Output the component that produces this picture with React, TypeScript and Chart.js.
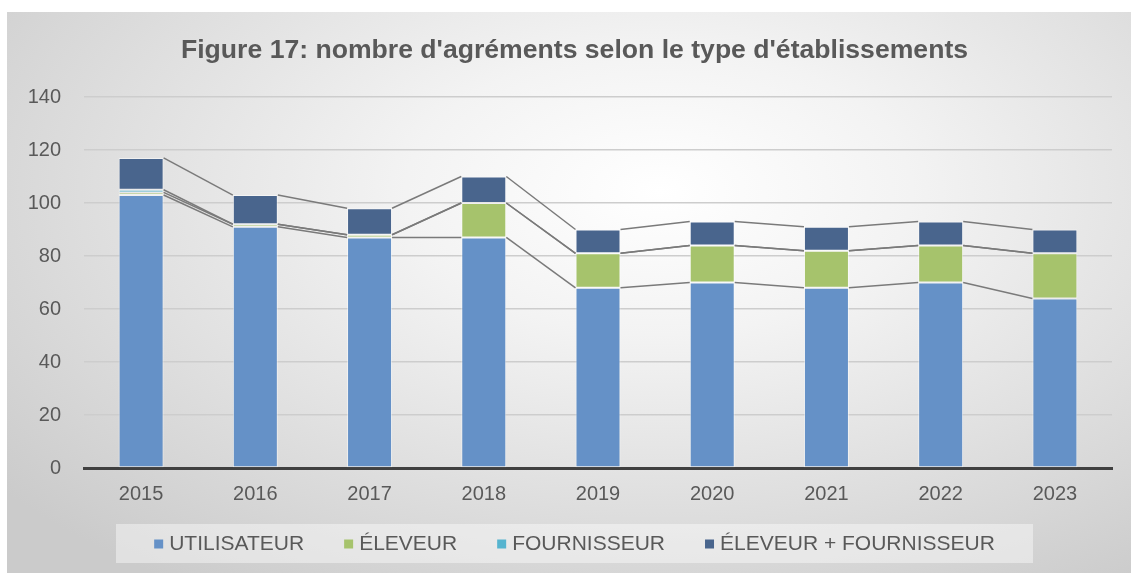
import React, { useEffect, useRef } from "react";
import { Chart, registerables } from "chart.js";

Chart.register(...registerables);

const TITLE = "Figure 17: nombre d'agréments selon le type d'établissements";
const YEARS = ["2015", "2016", "2017", "2018", "2019", "2020", "2021", "2022", "2023"];
const UTILISATEUR = [103, 91, 87, 87, 68, 70, 68, 70, 64];
const ELEVEUR = [1, 1, 1, 13, 13, 14, 14, 14, 17];
const FOURNISSEUR = [1, 0, 0, 0, 0, 0, 0, 0, 0];
const ELEVEUR_FOURNISSEUR = [12, 11, 10, 10, 9, 9, 9, 9, 9];
const SERIES_NAMES = ["UTILISATEUR", "ÉLEVEUR", "FOURNISSEUR", "ÉLEVEUR + FOURNISSEUR"];
const SERIES_COLORS = ["#6591c7", "#a6c36c", "#56b4cf", "#49658d"];

const FONT = "'Liberation Sans', Arial, sans-serif";
const TEXT_COLOR = "#595959";

const seriesLines = {
  id: "seriesLines",
  afterDatasetsDraw(chart: any) {
    const ctx = chart.ctx;
    ctx.save();
    ctx.strokeStyle = "#7a7a7a";
    ctx.lineWidth = 1.5;
    chart.data.datasets.forEach((_: any, d: number) => {
      const meta = chart.getDatasetMeta(d);
      for (let i = 0; i < meta.data.length - 1; i++) {
        const a = meta.data[i].getProps(["x", "y", "width"], true);
        const b = meta.data[i + 1].getProps(["x", "y", "width"], true);
        ctx.beginPath();
        ctx.moveTo(a.x + a.width / 2, a.y);
        ctx.lineTo(b.x - b.width / 2, b.y);
        ctx.stroke();
      }
    });
    ctx.restore();
  },
};

const decorations = {
  id: "decorations",
  afterDraw(chart: any) {
    const ctx = chart.ctx;
    const w = chart.width;
    ctx.save();
    // title
    ctx.fillStyle = TEXT_COLOR;
    ctx.font = `bold 26.6px ${FONT}`;
    ctx.textAlign = "center";
    ctx.textBaseline = "alphabetic";
    ctx.fillText(TITLE, w / 2 + 5.5, 46);

    // legend
    const boxL = 109, boxR = 1026, boxT = 512, boxB = 551;
    ctx.fillStyle = "rgba(255,255,255,0.42)";
    ctx.fillRect(boxL, boxT, boxR - boxL, boxB - boxT);
    ctx.font = `21px ${FONT}`;
    ctx.textBaseline = "middle";
    const marker = 9, gap = 6, spacing = 40;
    const widths = SERIES_NAMES.map((n) => ctx.measureText(n).width);
    const total = widths.reduce((s, t) => s + t + marker + gap, 0) + spacing * (SERIES_NAMES.length - 1);
    let x = (boxL + boxR) / 2 - total / 2;
    const cy = (boxT + boxB) / 2 + 0.5;
    ctx.textAlign = "left";
    SERIES_NAMES.forEach((n, i) => {
      ctx.fillStyle = SERIES_COLORS[i];
      ctx.fillRect(x, cy - marker / 2, marker, marker);
      ctx.fillStyle = TEXT_COLOR;
      ctx.fillText(n, x + marker + gap, cy);
      x += marker + gap + widths[i] + spacing;
    });
    ctx.restore();
  },
};

export default function App() {
  const ref = useRef<HTMLCanvasElement>(null);
  useEffect(() => {
    const data = [UTILISATEUR, ELEVEUR, FOURNISSEUR, ELEVEUR_FOURNISSEUR];
    const chart = new Chart(ref.current as HTMLCanvasElement, {
      type: "bar",
      data: {
        labels: YEARS,
        datasets: SERIES_NAMES.map((name, i) => ({
          label: name,
          data: data[i],
          backgroundColor: SERIES_COLORS[i],
          borderColor: "rgba(255,255,255,0.5)",
          borderWidth: 1,
          borderSkipped: false,
          barPercentage: 0.394,
          categoryPercentage: 1,
        })),
      },
      options: {
        animation: false,
        responsive: true,
        maintainAspectRatio: false,
        layout: { padding: { top: 85, right: 19, bottom: 65, left: 0 } },
        plugins: {
          legend: { display: false },
          title: { display: false },
          tooltip: { enabled: false },
        },
        scales: {
          x: {
            stacked: true,
            grid: { display: false, drawTicks: false },
            border: { display: true, color: "#404040", width: 3 },
            ticks: { color: TEXT_COLOR, font: { family: FONT, size: 20 }, padding: 14 },
            afterFit: (s: any) => { s.height = 40; },
          },
          y: {
            stacked: true,
            min: 0,
            max: 140,
            ticks: { stepSize: 20, color: TEXT_COLOR, font: { family: FONT, size: 20 }, padding: 23 },
            grid: {
              drawTicks: false,
              color: (c: any) => (c.tick && c.tick.value === 0 ? "rgba(0,0,0,0)" : "#cdcdcd"),
              lineWidth: 1.5,
            },
            border: { display: false },
            afterFit: (s: any) => { s.width = 77; },
          },
        },
      },
      plugins: [seriesLines, decorations],
    });
    return () => chart.destroy();
  }, []);

  return (
    <div
      style={{
        position: "absolute",
        left: 7,
        top: 12,
        width: 1124,
        height: 561,
        background:
          "radial-gradient(ellipse 75% 85% at 58% 32%, #ffffff 0%, #f3f3f3 30%, #e2e2e2 60%, #cbcbcb 100%)",
      }}
    >
      <canvas ref={ref} />
    </div>
  );
}
